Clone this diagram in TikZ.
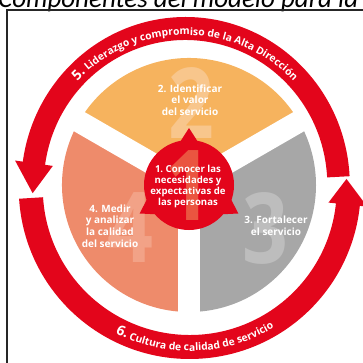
\documentclass[tikz,border=0pt]{standalone}
\usepackage{fontspec}
\setmainfont{Open Sans}
\newfontfamily\titlefont{Carlito}
\usetikzlibrary{decorations.text}

\definecolor{ringred}{HTML}{E3051B}
\definecolor{sunc}{HTML}{F6B35E}
\definecolor{sunnum}{HTML}{F8C68C}
\definecolor{salmc}{HTML}{EE8B6B}
\definecolor{salmnum}{HTML}{F2A287}
\definecolor{greyc}{HTML}{A7A7A7}
\definecolor{greynum}{HTML}{BDBDBD}
\definecolor{corenum}{HTML}{EA5540}

\newcommand{\ringfont}{\fontsize{10.3}{11}\selectfont\bfseries}
\newcommand{\ringbig}{\fontsize{14}{14}\selectfont\bfseries}
\newcommand{\bigdigit}[1]{\scalebox{0.82}[1]{#1}}

\begin{document}
\begin{tikzpicture}[x=1pt,y=1pt,
  steplabel/.style={text=white, align=center, inner sep=0pt,
    font=\bfseries\fontsize{10}{11.7}\selectfont},
  bignum/.style={inner sep=0pt, font=\bfseries\fontsize{98}{98}\selectfont},
  ringtext/.style={decorate, decoration={text along path, text align=center,
    text color=white, text={#1}}}
]
\useasboundingbox (0,0) rectangle (363,362);

% heading, only its lower part falls inside the page
\node[anchor=base west, inner sep=0pt,
  font=\titlefont\itshape\fontsize{27}{27}\selectfont] (title) at (-2,354)
  {Componentes del modelo para la};

% frame
\draw[line width=1.6pt, black!85] (7,352) rectangle (390,-30);

% three-part disc
\begin{scope}[shift={(189,177)}]
  \fill[sunc]  (0,0) -- (30:127)  arc[start angle=30,  end angle=150, radius=127] -- cycle;
  \fill[greyc] (0,0) -- (-90:127) arc[start angle=-90, end angle=30,  radius=127] -- cycle;
  \fill[salmc] (0,0) -- (150:127) arc[start angle=150, end angle=270, radius=127] -- cycle;
\end{scope}

% faint step numbers
\node[bignum, text=sunnum]  (n2) at (191,259) {\bigdigit{2}};
\node[bignum, text=greynum] (n3) at (265,134) {\bigdigit{3}};
\node[bignum, text=salmnum] (n4) at (130,134) {\bigdigit{4}};

% white separators
\begin{scope}[shift={(189,177)}]
  \foreach \a in {30,150,270}
    \draw[white, line width=22pt] (0,0) -- (\a:140);
\end{scope}

% core circle with its three arrows
\begin{scope}[shift={(189,177)}]
  \fill[ringred] (0,0) circle[radius=45];
  \foreach \a in {90,210,330}
    \fill[ringred, rotate=\a] (57,0) -- (43,9) -- (43,-9) -- cycle;
\end{scope}
\node[bignum, text=corenum] (n1) at (188,176) {\bigdigit{1}};

% upper arrow of the ring: leadership
\begin{scope}[shift={(185.5,177)}, xscale=0.978]
  \fill[ringred] (3:168) arc[start angle=3, end angle=172, radius=168]
    -- (172:176) -- (183:156.5) -- (172:137) -- (172:145)
    arc[start angle=172, end angle=3, radius=145] -- cycle;
\end{scope}
% lower arrow of the ring: service culture
\begin{scope}[shift={(189.75,174)}]
  \fill[ringred] (183.6:171) arc[start angle=183.6, end angle=354, radius=171]
    -- (354:178.5) -- (363.3:157) -- (354:139.5) -- (354:147)
    arc[start angle=354, end angle=183.6, radius=147] -- cycle;
\end{scope}

% ring captions
\begin{scope}[shift={(185.5,177)}]
  \path[ringtext={|\ringbig|5.|\ringfont| Liderazgo y compromiso de la Alta Dirección}]
    (155:150) arc[start angle=155, end angle=25, radius=150];
\end{scope}
\begin{scope}[shift={(189.75,174)}]
  \path[ringtext={|\ringbig|6.|\ringfont| Cultura de calidad de servicio}]
    (-143:163) arc[start angle=-143, end angle=-33, radius=163];
\end{scope}

% step texts
\node[steplabel] (s2) at (190,262) {2. Identificar\\el valor\\del servicio};
\node[steplabel, font=\bfseries\fontsize{9.6}{11}\selectfont] (s1) at (188,175)
  {1.\ Conocer las\\necesidades y\\expectativas de\\las personas};
\node[steplabel, font=\bfseries\fontsize{10}{12.5}\selectfont] (s3) at (276,136.5)
  {3. Fortalecer\\el servicio};
\node[steplabel] (s4) at (110,136) {4. Medir\\y analizar\\la calidad\\del servicio};
\end{tikzpicture}
\end{document}
